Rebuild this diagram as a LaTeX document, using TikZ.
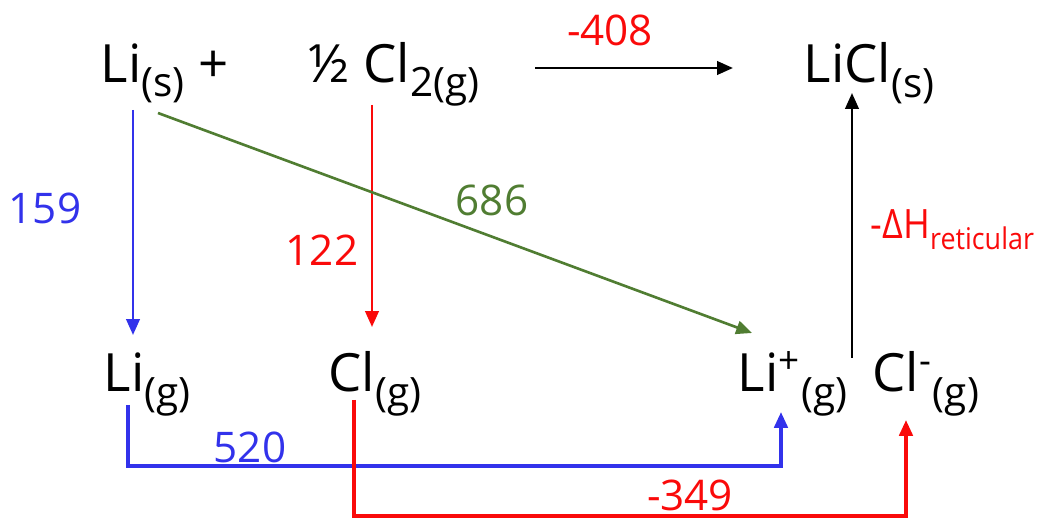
\documentclass[tikz,border=0pt]{standalone}
\usepackage{fontspec}
\setmainfont{Open Sans}
\usetikzlibrary{arrows.meta, positioning, calc}
\definecolor{cycblue}{RGB}{50,50,235}
\definecolor{cycred}{RGB}{250,10,10}
\definecolor{cycgreen}{RGB}{80,125,50}
\newcommand{\phase}[1]{\raisebox{-0.5ex}{\fontsize{11.5}{13}\selectfont #1}}
\tikzset{
  species/.style={
    font=\fontsize{15}{18}\selectfont,
    inner sep=0pt,
    anchor=base west
  },
  step arrow/.style={
    -{Triangle[length=4.5pt,width=3.8pt]},
    line width=0.75pt
  },
  path line/.style={
    -{Triangle[length=4.5pt,width=3.8pt]},
    line width=1pt
  },
  value/.style={
    font=\fontsize{12}{14}\selectfont
  }
}
\begin{document}
\begin{tikzpicture}[x=0.01cm, y=-0.01cm]
  \useasboundingbox (0,0) rectangle (1038,518);

  % especies
  \node[species] (lis)  at (100,82)  {Li\phase{(s)} +};
  \node[species] (cl2)  at (308,82)  {½ Cl\phase{2(g)}};
  \node[species] (licl) at (803,83)  {LiCl\phase{(s)}};
  \node[species] (lig)  at (103,392) {Li\phase{(g)}};
  \node[species] (clg)  at (328,392) {Cl\phase{(g)}};
  \node[species] (lip)  at (737,392) {Li\textsuperscript{+}\phase{(g)}};
  \node[species] (clm)  at (872,392) {Cl\textsuperscript{-}\phase{(g)}};

  % extremos de las flechas
  \coordinate (lisout) at (133,110);
  \coordinate (ligin)  at (133,335);
  \coordinate (cl2out) at (372,105);
  \coordinate (clgin)  at (372,327);
  \coordinate (lisgo)  at (158,113);
  \coordinate (lipin)  at (752,333);
  \coordinate (ionout) at (852,358);
  \coordinate (liclin) at (852,93);
  \coordinate (ligout) at (128,405);
  \coordinate (lipup)  at (781,412);
  \coordinate (clgout) at (354,400);
  \coordinate (clmup)  at (906,420);

  % formacion directa
  \draw[step arrow] (cl2.east |- 0,68) ++(0.55cm,0) -- ([xshift=-0.7cm]licl.west |- 0,68);
  \node[value, cycred] (hf) at (610,30) {-408};

  % sublimacion y disociacion
  \draw[step arrow, cycblue] (lisout) -- (ligin);
  \node[value, cycblue] (hs) at (45,208) {159};
  \draw[step arrow, cycred] (cl2out) -- (clgin);
  \node[value, cycred] (hd) at (322,250) {122};

  % ionizacion directa
  \draw[step arrow, cycgreen] (lisgo) -- (lipin);
  \node[value, cycgreen] (hi) at (492,200) {686};

  % red cristalina
  \draw[step arrow] (ionout) -- (liclin);
  \node[cycred, anchor=west, inner sep=0pt, font=\fontsize{11.5}{13}\selectfont] (hr) at (870,230)
    {\scalebox{0.9}[1]{-ΔH\raisebox{-0.5ex}{\fontsize{8.5}{10}\selectfont reticular}}};

  % ionizacion y afinidad electronica
  \draw[path line, cycblue] (ligout) -- (128,466) -| (lipup);
  \node[value, cycblue] (he) at (250,447) {520};
  \draw[path line, cycred] (clgout) -- (354,516) -| (clmup);
  \node[value, cycred] (ha) at (690,495) {-349};
\end{tikzpicture}
\end{document}
